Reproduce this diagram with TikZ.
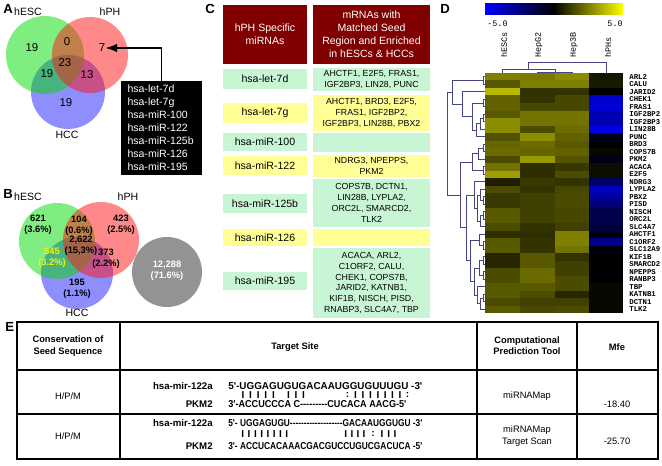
\documentclass[tikz,border=0pt]{standalone}
\usepackage{fontspec}
\usepackage{graphicx}
\setmainfont{Liberation Sans}
\newfontfamily\heatfont{Liberation Mono}
\newfontfamily\seqfont[Ligatures=TeXOff]{Liberation Sans}
\usetikzlibrary{arrows.meta,calc,positioning}

\definecolor{vgreen}{RGB}{0,220,0}
\definecolor{vred}{RGB}{255,20,20}
\definecolor{vblue}{RGB}{30,30,255}
\definecolor{headred}{RGB}{128,0,0}
\definecolor{mint}{RGB}{200,246,212}
\definecolor{lemon}{RGB}{255,255,150}
\definecolor{treeline}{RGB}{70,70,130}
\definecolor{hyellow}{RGB}{255,255,0}
\definecolor{hblue}{RGB}{0,0,255}
\definecolor{hblack}{RGB}{0,0,0}

% sequence line squeezed to a given width (in px of the figure)
\newcommand{\seqline}[2]{\resizebox{#1\dimexpr 0.02cm\relax}{\height}{#2}}

\begin{document}
\begin{tikzpicture}[x=0.02cm, y=-0.02cm, >=Latex,
    panel/.style={font=\fontsize{7.5}{8}\selectfont\bfseries, anchor=north west, inner sep=0},
    setname/.style={font=\fontsize{6}{7}\selectfont, inner sep=0},
    count/.style={font=\fontsize{6.5}{7}\selectfont, inner sep=0},
    share/.style={font=\fontsize{5.3}{6.2}\selectfont\bfseries, align=center, inner sep=0},
    cbox/.style 2 args={minimum width={(#1)*0.02cm}, minimum height={(#2)*0.02cm}, inner sep=0},
    head/.style={fill=headred, text=white, align=center, font=\fontsize{6}{7.4}\selectfont},
    mirna/.style={font=\fontsize{6}{7}\selectfont},
    genes/.style={align=center, font=\fontsize{5}{6.2}\selectfont},
    rowlab/.style={font=\heatfont\bfseries\fontsize{4.2}{5}\selectfont, anchor=west, inner sep=0},
    collab/.style={font=\heatfont\fontsize{4.8}{5}\selectfont, anchor=west, rotate=90, inner sep=0},
    tree/.style={draw=treeline, line width=0.35pt},
    cell/.style={font=\fontsize{5.3}{6.4}\selectfont, align=center, inner sep=0},
    celltitle/.style={font=\fontsize{5.3}{6.4}\selectfont\bfseries, align=center, inner sep=0},
    seq/.style={font=\seqfont\fontsize{5.7}{6}\selectfont\bfseries, anchor=west, inner sep=0},
    pair/.style={font=\seqfont\fontsize{5.7}{6}\selectfont\bfseries, inner sep=0},
    seqname/.style={font=\fontsize{5.5}{6}\selectfont\bfseries, anchor=east, inner sep=0}]

  \useasboundingbox (0,0) rectangle (662,466);

  % ---------------- A: Venn diagram of miRNAs
  \node[panel] (labA) at (3,4) {A};
  \fill[vblue, fill opacity=0.5] (68,92) circle (37);
  \fill[vgreen, fill opacity=0.5] (45,55) circle (39);
  \fill[vred, fill opacity=0.5] (90,55) circle (38);
  \node[setname] (aesc) at (28,12) {hESC};
  \node[setname] (aph) at (110,12) {hPH};
  \node[setname] (acc) at (67,135) {HCC};
  \node[count] (aesconly) at (32,48) {19};
  \node[count] (aphonly) at (102,48) {7};
  \node[count] (aescph) at (67,42) {0};
  \node[count] (aall) at (65,63) {23};
  \node[count] (aesccc) at (47,74) {19};
  \node[count] (aphcc) at (87,75) {13};
  \node[count] (acconly) at (66,103) {19};

  % list of hPH specific miRNAs
  \node[fill=black, text=white, cbox={81}{94}, align=left, font=\fontsize{6}{7.4}\selectfont,
        text width=68*0.02cm] (mirlist) at (161.5,128)
        {hsa-let-7d\\hsa-let-7g\\hsa-miR-100\\hsa-miR-122\\hsa-miR-125b\\hsa-miR-126\\hsa-miR-195};
  \draw[->, thick] (mirlist.north) |- (aphonly.east);

  % ---------------- B: Venn diagram of mRNAs
  \node[panel] (labB) at (3,189) {B};
  \fill[vblue, fill opacity=0.5] (77,273) circle (36);
  \fill[vgreen, fill opacity=0.5] (57,241) circle (38);
  \fill[vred, fill opacity=0.5] (101,240) circle (38);
  \fill[gray!85] (167,272) circle (35);
  \node[setname] (besc) at (28,197) {hESC};
  \node[setname] (bph) at (128,197) {hPH};
  \node[setname] (bcc) at (77,313) {HCC};
  \node[share] (besconly) at (38,225) {621\\(3.6\%)};
  \node[share] (bescph) at (79,226) {104\\(0.6\%)};
  \node[share] (bphonly) at (121,225) {423\\(2.5\%)};
  \node[share] (ball) at (81,246) {2,622\\(15,3\%)};
  \node[share, text=yellow] (besccc) at (52,258) {545\\(3.2\%)};
  \node[share] (bphcc) at (106,259) {373\\(2.2\%)};
  \node[share] (bcconly) at (77,289) {195\\(1.1\%)};
  \node[share, text=white] (bnone) at (167,271) {12,288\\(71.6\%)};

  % ---------------- C: miRNAs and matched mRNAs
  \node[panel] (labC) at (205,4) {C};
  \node[head, cbox={84}{59}] (hmir) at (265,34.5) {hPH Specific\\miRNAs};
  \node[head, cbox={117}{59}] (hgene) at (371.5,34.5)
       {mRNAs with\\Matched Seed\\Region and Enriched\\in hESCs \& HCCs};

  \foreach \nm/\col/\ra/\rb/\txt in {
      let7d/mint/68/91/{AHCTF1, E2F5, FRAS1,\\IGF2BP3, LIN28, PUNC},
      let7g/lemon/95/131/{AHCTF1, BRD3, E2F5,\\FRAS1, IGF2BP2,\\IGF2BP3, LIN28B, PBX2},
      mir100/mint/133/152/{},
      mir122/lemon/155/177/{NDRG3, NPEPPS,\\PKM2},
      mir125b/mint/179/227/{COPS7B, DCTN1,\\LIN28B, LYPLA2,\\ORC2L, SMARCD2,\\TLK2},
      mir126/lemon/229/246/{},
      mir195/mint/248/318/{ACACA, ARL2,\\C1ORF2, CALU,\\CHEK1, COPS7B,\\JARID2, KATNB1,\\KIF1B, NISCH, PISD,\\RNABP3, SLC4A7, TBP}} {
    \node[genes, fill=\col, cbox={117}{\rb-\ra}] (g\nm) at (371.5,{(\ra+\rb)/2}) {\txt};
  }
  \foreach \nm/\col/\la/\lb/\txt in {
      let7d/mint/69/89/hsa-let-7d, let7g/lemon/103/123/hsa-let-7g,
      mir100/mint/133/151/hsa-miR-100, mir122/lemon/156/175/hsa-miR-122,
      mir125b/mint/194/213/hsa-miR-125b, mir126/lemon/229/246/hsa-miR-126,
      mir195/mint/272/290/hsa-miR-195} {
    \node[mirna, fill=\col, cbox={84}{\lb-\la}] (m\nm) at (265,{(\la+\lb)/2}) {\txt};
  }

  % ---------------- D: heat map
  \node[panel] (labD) at (440,4) {D};
  \shade[left color=hblue, right color=hblack] (485,4) rectangle (554,15);
  \shade[left color=hblack, right color=hyellow] (554,4) rectangle (623,15);
  \node[font=\heatfont\fontsize{4.8}{5}\selectfont, anchor=west, inner sep=0] (lowend) at (487,24) {-5.0};
  \node[font=\heatfont\fontsize{4.8}{5}\selectfont, anchor=east, inner sep=0] (highend) at (623,24) {5.0};
  \node[collab] (cesc) at (504,58) {hESCs};
  \node[collab] (chepg) at (539,58) {HepG2};
  \node[collab] (chepb) at (574,58) {Hep3B};
  \node[collab] (cph) at (608,58) {hPHs};

  % column tree
  \draw[tree] (537.5,73) |- (572,72) -- (572,73);
  \draw[tree] (502.5,73) |- (555,69) -- (555,72);
  \draw[tree] (528.75,69) |- (606,62) -- (606,73);

  % cells
  \foreach \lab/\va/\vb/\vc/\vd [count=\i] in {
      ARL2/50/48/55/8, CALU/35/50/50/10, JARID2/72/20/20/0, CHEK1/38/20/28/-80,
      FRAS1/38/28/28/-85, IGF2BP2/35/45/45/-70, IGF2BP3/55/45/45/-70, LIN28B/55/30/42/-90,
      PUNC/32/55/38/-10, BRD3/40/42/35/0, COPS7B/42/40/38/3, PKM2/30/60/33/-10,
      ACACA/45/18/22/5, E2F5/62/18/30/5, NDRG3/12/22/20/-40, LYPLA2/30/20/28/-75,
      PBX2/22/25/30/-60, PISD/22/25/30/-45, NISCH/35/25/28/-30, ORC2L/35/25/28/-30,
      SLC4A7/30/20/25/-25, AHCTF1/18/18/50/-5, C1ORF2/35/20/50/-55, SLC12A9/35/20/45/-5,
      KIF1B/15/35/20/0, SMARCD2/15/35/25/0, NPEPPS/30/42/25/0, RANBP3/30/42/30/0,
      TBP/35/35/30/3, KATNB1/35/30/15/3, DCTN1/30/25/25/3, TLK2/35/28/30/3} {
    \foreach \v/\xa/\xb in {\va/485/520, \vb/520/555, \vc/555/589, \vd/589/623} {
      \ifnum\v<0 \colorlet{cellcol}{hblue!\the\numexpr-\v\relax!hblack}\else\colorlet{cellcol}{hyellow!\v!hblack}\fi
      \fill[cellcol] (\xa,{65.5+7.5*\i}) rectangle (\xb,{73+7.5*\i});
    }
    \node[rowlab] (r\i) at (629,{69.25+7.5*\i}) {\lab};
  }

  % row tree
  \draw[tree] (485,76.75) -| (483,84.25) -- (485,84.25);
  \draw[tree] (485,99.25) -| (483,106.75) -- (485,106.75);
  \draw[tree] (485,114.25) -| (483,121.75) -- (485,121.75);
  \draw[tree] (483,118) -| (480,129.25) -- (485,129.25);
  \draw[tree] (480,123.6) -| (476,136.75) -- (485,136.75);
  \draw[tree] (483,103) -| (472,130.2) -- (476,130.2);
  \draw[tree] (485,91.75) -| (462,116.6) -- (472,116.6);
  \draw[tree] (483,80.5) -| (452,104.2) -- (462,104.2);
  \draw[tree] (485,144.25) -| (483,151.75) -- (485,151.75);
  \draw[tree] (483,148) -| (478,159.25) -- (485,159.25);
  \draw[tree] (485,166.75) -| (483,174.25) -- (485,174.25);
  \draw[tree] (478,153.6) -| (472,170.5) -- (483,170.5);
  \draw[tree] (485,196.75) -| (483,204.25) -- (485,204.25);
  \draw[tree] (485,189.25) -| (480,200.5) -- (483,200.5);
  \draw[tree] (485,211.75) -| (483,219.25) -- (485,219.25);
  \draw[tree] (483,215.5) -| (480,226.75) -- (485,226.75);
  \draw[tree] (480,194.9) -| (477,221.1) -- (480,221.1);
  \draw[tree] (485,181.75) -| (474,208) -- (477,208);
  \draw[tree] (485,241.75) -| (483,249.25) -- (485,249.25);
  \draw[tree] (485,234.25) -| (479,245.5) -- (483,245.5);
  \draw[tree] (485,256.75) -| (483,264.25) -- (485,264.25);
  \draw[tree] (485,271.75) -| (483,279.25) -- (485,279.25);
  \draw[tree] (483,260.5) -| (479,275.5) -- (483,275.5);
  \draw[tree] (485,294.25) -| (483,301.75) -- (485,301.75);
  \draw[tree] (483,298) -| (480,309.25) -- (485,309.25);
  \draw[tree] (485,286.75) -| (477,303.6) -- (480,303.6);
  \draw[tree] (479,268) -| (474,295.2) -- (477,295.2);
  \draw[tree] (479,239.9) -| (470,281.6) -- (474,281.6);
  \draw[tree] (474,194.9) -| (466,260.8) -- (470,260.8);
  \draw[tree] (472,162) -| (460,227.8) -- (466,227.8);
  \draw[tree] (452,92.3) -| (447,195) -- (460,195);

  % ---------------- E: target site table
  \node[panel] (labE) at (5,322) {E};
  \draw[line width=0.6pt] (17,322) rectangle (658,459);
  \draw[line width=0.6pt] (17,370) -- (658,370);
  \draw[line width=0.6pt] (17,414) -- (658,414);
  \draw[line width=0.6pt] (120,322) -- (120,459);
  \draw[line width=0.6pt] (477,322) -- (477,459);
  \draw[line width=0.6pt] (577,322) -- (577,459);

  \node[celltitle] (tcons) at (68,346) {Conservation of\\Seed Sequence};
  \node[celltitle] (tsite) at (295,347) {Target Site};
  \node[celltitle] (ttool) at (527,346) {Computational\\Prediction Tool};
  \node[celltitle] (tmfe) at (617,347) {Mfe};

  % first target site
  \node[cell] (cons1) at (68,396) {H/P/M};
  \node[cell] (tool1) at (527,396) {miRNAMap};
  \node[cell] (mfe1) at (617,404) {-18.40};
  \node[seqname] (mir1) at (213,386) {hsa-mir-122a};
  \node[seqname] (pkm1) at (213,404) {PKM2};
  \node[seq] (mseq1) at (228,386) {\seqline{194}{5'-UGGAGUGUGACAAUGGUGUUUGU -3'}};
  \node[seq] (tseq1) at (228,404) {\seqline{178}{3'-ACCUCCCA C---------CUCACA AACG-5'}};
  \foreach \px/\mk [count=\k] in {243/I, 250.5/I, 258.3/I, 265.8/I, 273.4/I, 288.4/I, 296/I, 303.5/I,
                       347.6/:, 355.4/I, 363/I, 370.5/I, 378/I, 385.3/I, 392.5/I, 400/I, 407.6/:}
    \node[pair] (pairA\k) at (\px,395) {\mk};

  % second target site
  \node[cell] (cons2) at (68,436) {H/P/M};
  \node[cell] (tool2) at (527,436) {miRNAMap\\Target Scan};
  \node[cell] (mfe2) at (617,441) {-25.70};
  \node[seqname] (mir2) at (213,423) {hsa-mir-122a};
  \node[seqname] (pkm2) at (213,446) {PKM2};
  \node[seq] (mseq2) at (228,423) {\seqline{194}{5'- UGGAGUGU-------------------GACAAUGGUGU -3'}};
  \node[seq] (tseq2) at (228,446) {\seqline{194}{3'- ACCUCACAAACGACGUCCUGUCGACUCA -5'}};
  \foreach \px/\mk [count=\k] in {242.7/I, 249/I, 255.5/I, 261.7/I, 268/I, 274.2/I, 280.5/I, 286.7/I,
                       345.7/I, 352/I, 358/I, 364/I, 373/:, 382/I, 388.7/I, 395/I}
    \node[pair] (pairB\k) at (\px,434) {\mk};

\end{tikzpicture}
\end{document}
